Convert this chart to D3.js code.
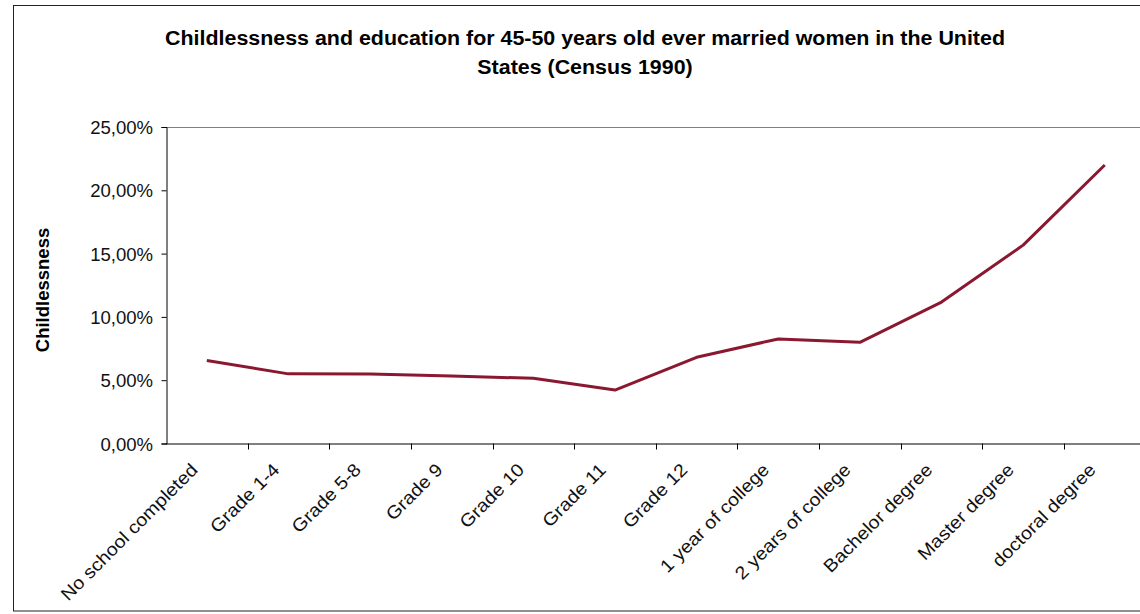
<!DOCTYPE html>
<html>
<head>
<meta charset="utf-8">
<script src="https://cdn.jsdelivr.net/npm/d3@7"></script>
<style>
  html, body { margin: 0; padding: 0; background: #fff; }
  svg { display: block; font-family: "Liberation Sans", Arial, sans-serif; }
</style>
</head>
<body>
<svg id="chart" width="1140" height="614"></svg>
<script>
// Education levels (x categories)
const categories = [
  "No school completed", "Grade 1-4", "Grade 5-8", "Grade 9", "Grade 10",
  "Grade 11", "Grade 12", "1 year of college", "2 years of college",
  "Bachelor degree", "Master degree", "doctoral degree"
];
// Share of childless women per education level
const childlessness = [
  0.0655, 0.0550, 0.0548, 0.0533, 0.0515, 0.0422,
  0.0681, 0.0826, 0.0799, 0.1117, 0.1567, 0.2200
];
// Y axis ticks
const yTicks = [0, 0.05, 0.10, 0.15, 0.20, 0.25];

const titleLines = [
  "Childlessness and education for 45-50 years old ever married women in the United",
  "States (Census 1990)"
];
const yTitle = "Childlessness";

const svg = d3.select("#chart");

// Comma decimal separator for percentages
const locale = d3.formatLocale({ decimal: ",", thousands: ".", grouping: [3], currency: ["", "€"] });
const pct = locale.format(".2%");

const plot = { left: 166, top: 127, right: 1145.6, bottom: 443.5 };

const x = d3.scaleBand().domain(categories).range([plot.left, plot.right]).paddingInner(0).paddingOuter(0);
const y = d3.scaleLinear().domain([0, 0.25]).range([plot.bottom, plot.top]);

// Outer chart frame
svg.append("rect")
  .attr("x", 13.5).attr("y", 5.5)
  .attr("width", 1140).attr("height", 605.5)
  .attr("fill", "none").attr("stroke", "#222").attr("stroke-width", 1);

// Plot area top border
svg.append("line")
  .attr("x1", plot.left).attr("x2", 1140)
  .attr("y1", plot.top + 0.5).attr("y2", plot.top + 0.5)
  .attr("stroke", "#808080").attr("stroke-width", 1);

// Title
svg.append("g").selectAll("text").data(titleLines).join("text")
  .attr("transform", (d, i) => `translate(585, ${45 + i * 28.5}) scale(1.045,1)`)
  .attr("text-anchor", "middle")
  .attr("font-weight", "bold")
  .attr("font-size", 20.5)
  .attr("fill", "#000")
  .text(d => d);

// Y axis
const yAxis = svg.append("g")
  .attr("transform", `translate(${plot.left + 0.5},0)`)
  .call(d3.axisLeft(y).tickValues(yTicks).tickSize(5).tickFormat(pct));
yAxis.select(".domain").attr("stroke", "#000");
yAxis.selectAll(".tick line").attr("stroke", "#000");
yAxis.selectAll(".tick text")
  .attr("font-size", 17.5)
  .attr("fill", "#111")
  .attr("font-family", "Liberation Sans, Arial, sans-serif")
  .attr("x", 0).attr("dy", 0)
  .attr("transform", "translate(-13.5,6.5) scale(1.06,1)");

// Y axis title
svg.append("text")
  .attr("transform", `translate(49, 290) rotate(-90)`)
  .attr("text-anchor", "middle")
  .attr("font-weight", "bold")
  .attr("font-size", 18.5)
  .attr("fill", "#000")
  .text(yTitle);

// X axis line and boundary ticks
const xg = svg.append("g");
xg.append("line")
  .attr("x1", plot.left).attr("x2", 1140)
  .attr("y1", plot.bottom + 0.5).attr("y2", plot.bottom + 0.5)
  .attr("stroke", "#000");
xg.selectAll("line.tick").data(categories.slice(1)).join("line")
  .attr("class", "tick")
  .attr("x1", d => Math.round(x(d)) + 0.5).attr("x2", d => Math.round(x(d)) + 0.5)
  .attr("y1", plot.bottom).attr("y2", plot.bottom + 6)
  .attr("stroke", "#000");

// Rotated category labels
xg.selectAll("text").data(categories).join("text")
  .attr("transform", d => `translate(${x(d) + x.bandwidth() / 2 - 8}, 471) rotate(-45) scale(1.1,1)`)
  .attr("text-anchor", "end")
  .attr("font-size", 18)
  .attr("fill", "#111")
  .text(d => d);

// Data line
const line = d3.line()
  .x((d, i) => x(categories[i]) + x.bandwidth() / 2)
  .y(d => y(d));

svg.append("path")
  .datum(childlessness)
  .attr("d", line)
  .attr("fill", "none")
  .attr("stroke", "#8a1830")
  .attr("stroke-width", 3)
  .attr("stroke-linejoin", "round");
</script>
</body>
</html>
